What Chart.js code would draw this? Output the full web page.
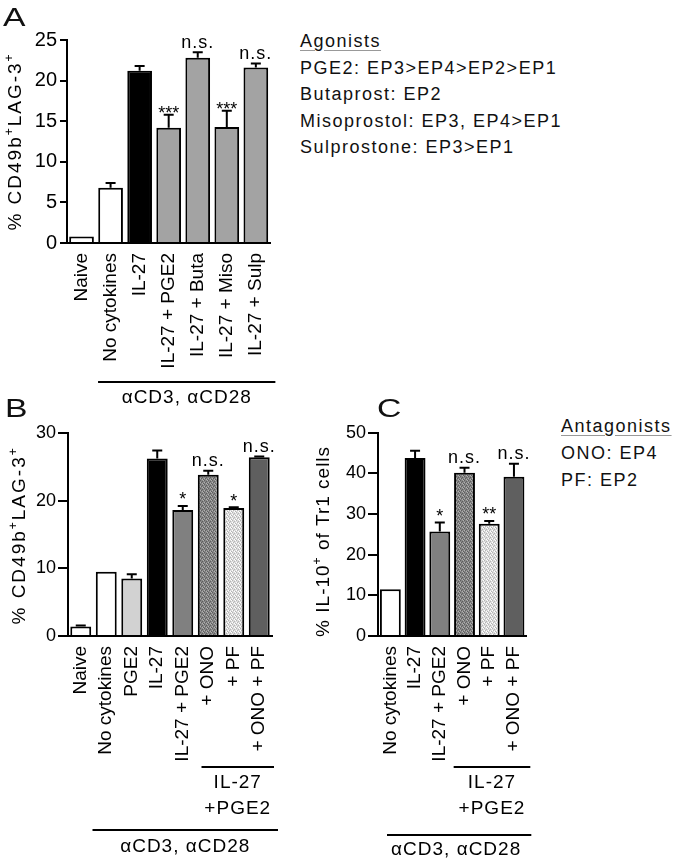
<!DOCTYPE html>
<html>
<head>
<meta charset="utf-8">
<script src="https://cdn.jsdelivr.net/npm/chart.js@4.4.0/dist/chart.umd.min.js"></script>
<style>
  body { margin: 0; background: #fff; font-family: "Liberation Sans", Arial, sans-serif; color: #111; }
  #page { position: relative; width: 675px; height: 862px; overflow: hidden; }
  canvas { position: absolute; }
  .letter { position: absolute; font-size: 25px; line-height: 1; transform: scaleX(1.35); transform-origin: 0 0; }
  .legend { position: absolute; font-size: 18px; letter-spacing: 1.5px; line-height: 26.5px; white-space: nowrap; }
  .legend u { text-decoration-color: #999; text-underline-offset: 3px; }
</style>
</head>
<body>
<div id="page">
  <canvas id="chartA" width="290" height="420" style="left:0;top:0"></canvas>
  <canvas id="chartB" width="300" height="442" style="left:0;top:420px"></canvas>
  <canvas id="chartC" width="240" height="442" style="left:308px;top:420px"></canvas>

  <div class="letter" style="left:3px;top:5px">A</div>
  <div class="letter" style="left:5px;top:396px">B</div>
  <div class="letter" style="left:377px;top:396px">C</div>

  <div class="legend" style="left:300px;top:28px">
    <u>Agonists</u><br>
    PGE2: EP3&gt;EP4&gt;EP2&gt;EP1<br>
    Butaprost: EP2<br>
    Misoprostol: EP3, EP4&gt;EP1<br>
    Sulprostone: EP3&gt;EP1
  </div>
  <div class="legend" style="left:561px;top:413px;line-height:27px">
    <u>Antagonists</u><br>
    ONO: EP4<br>
    PF: EP2
  </div>
</div>

<script>
const FONT = '"Liberation Sans", Arial, Helvetica, sans-serif';
Chart.defaults.font.family = FONT;
Chart.defaults.color = "#000";

// Panel A - agonists
const catsA = ["Naive", "No cytokines", "IL-27", "IL-27 + PGE2", "IL-27 + Buta", "IL-27 + Miso", "IL-27 + Sulp"];
const valsA = [0.8, 6.8, 21.2, 14.2, 22.8, 14.3, 21.6];
const errA = [0, 0.6, 0.6, 1.6, 0.7, 2.0, 0.5];
const sigA = ["", "", "", "***", "n.s.", "***", "n.s."];

// Panel B - antagonists, CD49b+LAG-3+
const catsB = ["Naive", "No cytokines", "PGE2", "IL-27", "IL-27 + PGE2", "+ ONO", "+ PF", "+ ONO + PF"];
const valsB = [1.4, 9.5, 8.5, 26.2, 18.6, 23.8, 18.9, 26.4];
const errB = [0.15, 0, 0.6, 1.2, 0.6, 0.6, 0.1, 0.1];
const sigB = ["", "", "", "", "*", "n.s.", "*", "n.s."];

// Panel C - antagonists, IL-10+ of Tr1
const catsC = ["No cytokines", "IL-27", "IL-27 + PGE2", "+ ONO", "+ PF", "+ ONO + PF"];
const valsC = [11.5, 43.8, 25.7, 40.2, 27.6, 39.2];
const errC = [0, 1.8, 2.2, 1.2, 0.7, 3.2];
const sigC = ["", "", "*", "n.s.", "**", "n.s."];

function dotPattern(bg, dot, light) {
  const c = document.createElement("canvas");
  c.width = 4; c.height = 4;
  const g = c.getContext("2d");
  g.fillStyle = bg; g.fillRect(0, 0, 4, 4);
  g.fillStyle = dot;
  g.fillRect(0, 0, 1, 1); g.fillRect(2, 1, 1, 1); g.fillRect(1, 2, 1, 1); g.fillRect(3, 3, 1, 1);
  g.fillStyle = light;
  g.fillRect(2, 3, 1, 1); g.fillRect(0, 2, 1, 1); g.fillRect(3, 0, 1, 1);
  return g.createPattern(c, "repeat");
}
const onoFill = dotPattern("#858585", "#5e5e5e", "#b0b0b0");
const pfFill = dotPattern("#dcdcdc", "#b4b4b4", "#ffffff");

const colorsA = ["#fff", "#fff", "#000", "#a3a3a3", "#a3a3a3", "#a3a3a3", "#a3a3a3"];
const colorsB = ["#fff", "#fff", "#d2d2d2", "#000", "#808080", onoFill, pfFill, "#5f5f5f"];
const colorsC = ["#fff", "#000", "#808080", onoFill, pfFill, "#5f5f5f"];

// error bars, significance marks, rotated y title, group brackets
const decor = {
  id: "decor",
  afterDatasetsDraw(chart, args, o) {
    const ctx = chart.ctx, y = chart.scales.y;
    const vals = chart.data.datasets[0].data;
    ctx.save();
    ctx.strokeStyle = "#000"; ctx.fillStyle = "#000"; ctx.lineWidth = 2;
    ctx.textAlign = "center"; ctx.textBaseline = "alphabetic";
    chart.getDatasetMeta(0).data.forEach((bar, i) => {
      const err = o.errors[i] || 0;
      const top = y.getPixelForValue(vals[i] + err);
      if (err > 0) {
        ctx.beginPath();
        ctx.moveTo(bar.x, bar.y); ctx.lineTo(bar.x, top);
        ctx.moveTo(bar.x - o.cap, top); ctx.lineTo(bar.x + o.cap, top);
        ctx.stroke();
      }
      const s = o.sig[i];
      if (!s) return;
      const stars = s[0] === "*";
      ctx.font = (stars ? 18 : 18) + "px " + FONT;
      ctx.letterSpacing = stars ? "0px" : "1px";
      ctx.fillText(s, bar.x, stars ? top + o.starDrop : top - 4.5);
    });
    ctx.restore();
  },
  afterDraw(chart, args, o) {
    const ctx = chart.ctx, area = chart.chartArea, x = chart.scales.x;
    const t = o.title;
    ctx.save();
    ctx.fillStyle = "#000";
    ctx.translate(t.x, (area.top + area.bottom) / 2 + t.dy);
    ctx.rotate(-Math.PI / 2);
    ctx.textAlign = "left"; ctx.textBaseline = "alphabetic";
    ctx.letterSpacing = t.spacing + "px";
    const main = "19px " + FONT, sup = "12px " + FONT;
    const w = t.parts.map(p => { ctx.font = p.sup ? sup : main; return ctx.measureText(p.text).width; });
    let pos = -w.reduce((a, b) => a + b, 0) / 2;
    t.parts.forEach((p, i) => {
      ctx.font = p.sup ? sup : main;
      ctx.fillText(p.text, pos, p.sup ? -8 : 0);
      pos += w[i];
    });
    ctx.restore();

    const half = (x.getPixelForValue(1) - x.getPixelForValue(0)) / 2;
    ctx.save();
    ctx.strokeStyle = "#000"; ctx.fillStyle = "#000"; ctx.lineWidth = 2;
    ctx.textAlign = "center"; ctx.textBaseline = "middle";
    ctx.font = "19px " + FONT;
    ctx.letterSpacing = "1px";
    o.groups.forEach(g => {
      const l = x.getPixelForValue(g.from) - half + g.dl;
      const r = x.getPixelForValue(g.to) + half + g.dr;
      ctx.beginPath(); ctx.moveTo(l, g.lineY); ctx.lineTo(r, g.lineY); ctx.stroke();
      g.texts.forEach(tx => ctx.fillText(tx.t, (l + r) / 2 + (tx.dx || 0), g.lineY + tx.dy));
    });
    ctx.restore();
  }
};

function barChart(id, cats, vals, colors, cfg) {
  return new Chart(document.getElementById(id), {
    type: "bar",
    data: {
      labels: cats,
      datasets: [{
        data: vals,
        backgroundColor: colors,
        borderColor: "#000",
        borderWidth: 2,
        borderSkipped: "start",
        barPercentage: cfg.barPct,
        categoryPercentage: 1
      }]
    },
    options: {
      responsive: false,
      animation: false,
      events: [],
      layout: { padding: { left: 0, right: cfg.padRight, top: cfg.padTop, bottom: 0 } },
      plugins: {
        legend: { display: false },
        tooltip: { enabled: false },
        decor: cfg.decor
      },
      scales: {
        x: {
          grid: { display: false, drawTicks: false },
          border: { display: true, color: "#000", width: 2 },
          ticks: { color: "#000", font: { size: 19 }, minRotation: 90, maxRotation: 90, padding: 10, autoSkip: false },
          afterFit(s) { s.height = cfg.xHeight; }
        },
        y: {
          min: 0, max: cfg.yMax,
          ticks: { stepSize: cfg.yStep, color: "#000", font: { size: cfg.tickSize }, padding: cfg.tickPad },
          grid: { drawOnChartArea: false, color: "#000", lineWidth: 2, tickLength: cfg.tickLen },
          border: { display: true, color: "#000", width: 2 },
          afterFit(s) { s.width = cfg.yWidth; }
        }
      }
    },
    plugins: [decor]
  });
}

const cdTitle = [{ text: "% CD49b" }, { text: "+", sup: true }, { text: "LAG-3" }, { text: "+", sup: true }];

barChart("chartA", catsA, valsA, colorsA, {
  barPct: 0.85, padRight: 19, padTop: 40, xHeight: 177, yWidth: 67,
  yMax: 25, yStep: 5, tickSize: 20, tickPad: 3, tickLen: 7,
  decor: {
    errors: errA, sig: sigA, cap: 5, starDrop: 4,
    title: { x: 21, dy: 0, spacing: 2, parts: cdTitle },
    groups: [{ from: 1, to: 6, dl: 2, dr: 5, lineY: 382, texts: [{ t: "αCD3, αCD28", dy: 16 }] }]
  }
});

barChart("chartB", catsB, valsB, colorsB, {
  barPct: 0.82, padRight: 28, padTop: 11, xHeight: 226, yWidth: 68,
  yMax: 30, yStep: 10, tickSize: 18, tickPad: 2, tickLen: 10,
  decor: {
    errors: errB, sig: sigB, cap: 5, starDrop: -0.5,
    title: { x: 25, dy: 1, spacing: 2, parts: cdTitle },
    groups: [
      { from: 5, to: 7, dl: 6, dr: 2, lineY: 347, texts: [{ t: "IL-27", dy: 16 }, { t: "+PGE2", dy: 42 }] },
      { from: 1, to: 7, dl: -1, dr: 6, lineY: 410, texts: [{ t: "αCD3, αCD28", dy: 17 }] }
    ]
  }
});

barChart("chartC", catsC, valsC, colorsC, {
  barPct: 0.845, padRight: 15, padTop: 12, xHeight: 226, yWidth: 70,
  yMax: 50, yStep: 10, tickSize: 18, tickPad: 2, tickLen: 10,
  decor: {
    errors: errC, sig: sigC, cap: 5, starDrop: -0.5,
    title: { x: 21, dy: 7, spacing: 1, parts: [{ text: "% IL-10" }, { text: "+", sup: true }, { text: " of Tr1 cells" }] },
    groups: [
      { from: 3, to: 5, dl: 1.5, dr: 4, lineY: 347, texts: [{ t: "IL-27", dy: 16 }, { t: "+PGE2", dy: 42 }] },
      { from: 0, to: 5, dl: 9, dr: 5, lineY: 415, texts: [{ t: "αCD3, αCD28", dy: 15, dx: -3 }] }
    ]
  }
});
</script>
</body>
</html>
